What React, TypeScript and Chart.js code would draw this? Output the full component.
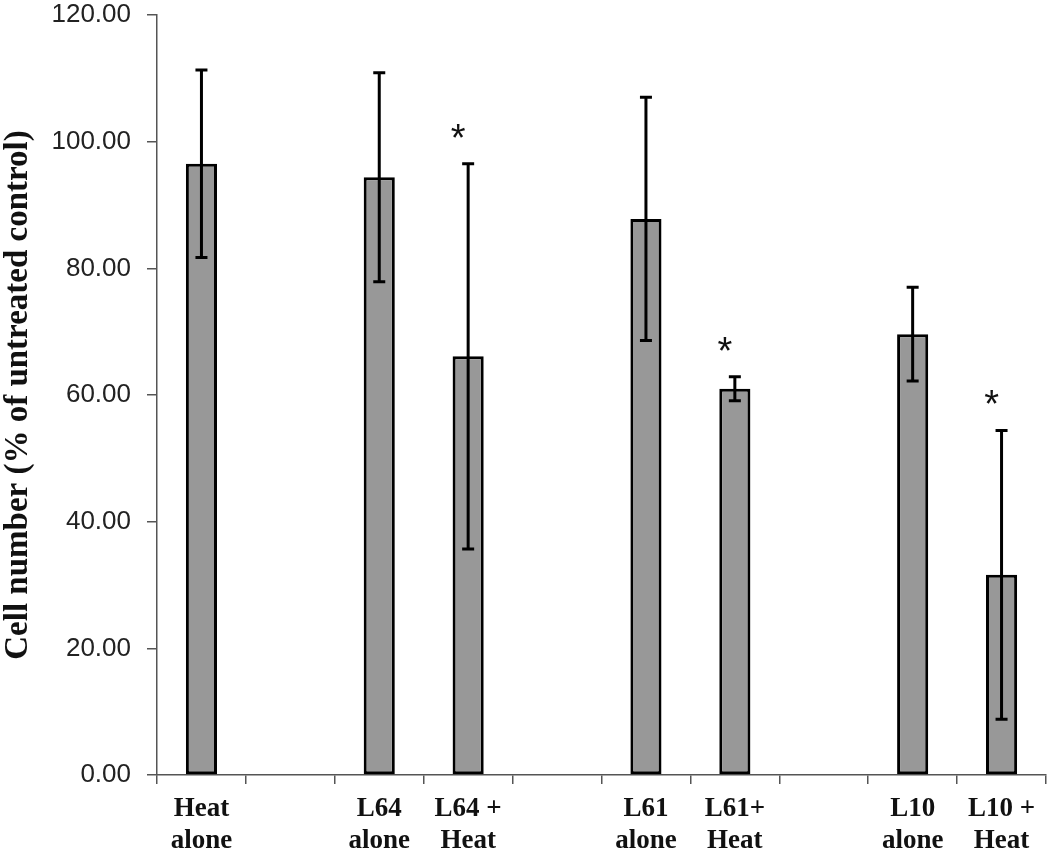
import React, { useEffect, useRef } from "react";
import { Chart, registerables } from "chart.js";

Chart.register(...registerables);

const categories: (string | string[])[] = [
  ["Heat", "alone"],
  "",
  ["L64", "alone"],
  ["L64 +", "Heat"],
  "",
  ["L61", "alone"],
  ["L61+", "Heat"],
  "",
  ["L10", "alone"],
  ["L10 +", "Heat"],
];
const meanValues: (number | null)[] = [96.5, null, 94.4, 66.1, null, 87.8, 61.0, null, 69.6, 31.6];
const errorValues: (number | null)[] = [14.8, null, 16.5, 30.4, null, 19.2, 1.9, null, 7.4, 22.8];
const significant: boolean[] = [false, false, false, true, false, false, true, false, false, true];
const yTickValues: number[] = [0, 20, 40, 60, 80, 100, 120];
const yTitle = "Cell number (% of untreated control)";

const SERIF = "'Liberation Serif', 'Times New Roman', serif";
const SANS = "'Liberation Sans', Arial, sans-serif";

const errorBarPlugin = {
  id: "errorBars",
  afterDatasetsDraw(chart: any) {
    const ctx = chart.ctx;
    const meta = chart.getDatasetMeta(0);
    const yScale = chart.scales.y;
    ctx.save();
    ctx.strokeStyle = "#000";
    ctx.lineWidth = 3;
    ctx.lineCap = "butt";
    meta.data.forEach((bar: any, i: number) => {
      const v = meanValues[i];
      const e = errorValues[i];
      if (v == null || e == null) return;
      const x = bar.x;
      const yTop = yScale.getPixelForValue(v + e);
      const yBot = yScale.getPixelForValue(v - e);
      ctx.beginPath();
      ctx.moveTo(x, yTop);
      ctx.lineTo(x, yBot);
      ctx.moveTo(x - 6, yTop);
      ctx.lineTo(x + 6, yTop);
      ctx.moveTo(x - 6, yBot);
      ctx.lineTo(x + 6, yBot);
      ctx.stroke();
      if (significant[i]) {
        ctx.fillStyle = "#111";
        ctx.font = `38px ${SANS}`;
        ctx.textAlign = "center";
        ctx.textBaseline = "alphabetic";
        ctx.fillText("*", x - 10, yTop - 34 + 21);
      }
    });
    ctx.restore();
  },
};

export default function App() {
  const canvasRef = useRef<HTMLCanvasElement | null>(null);

  useEffect(() => {
    document.body.style.margin = "0";
    const canvas = canvasRef.current;
    if (!canvas) return;
    const chart = new Chart(canvas, {
      type: "bar",
      data: {
        labels: categories,
        datasets: [
          {
            data: meanValues,
            backgroundColor: "#989898",
            borderColor: "#000",
            borderWidth: 3,
            borderSkipped: false,
            barPercentage: 0.35,
            categoryPercentage: 1,
          },
        ],
      },
      options: {
        responsive: false,
        animation: false,
        layout: { padding: { top: 15, right: 4, left: 0, bottom: 0 } },
        plugins: {
          legend: { display: false },
          tooltip: { enabled: false },
        },
        scales: {
          x: {
            offset: true,
            grid: {
              display: true,
              offset: true,
              drawOnChartArea: false,
              drawTicks: true,
              tickLength: 9,
              color: "#555",
              lineWidth: 1.5,
            },
            border: { display: true, color: "#555", width: 1.5 },
            ticks: {
              color: "#111",
              autoSkip: false,
              maxRotation: 0,
              padding: 10,
              font: { family: SERIF, weight: "bold", size: 27, lineHeight: 1.15 },
            },
            afterFit: (s: any) => {
              s.height = 76;
              s.paddingLeft = 0;
              s.paddingRight = 0;
            },
          },
          y: {
            min: 0,
            max: 120,
            afterBuildTicks: (s: any) => {
              s.ticks = yTickValues.map((v) => ({ value: v }));
            },
            ticks: {
              color: "#222",
              padding: 16,
              font: { family: SANS, size: 26, lineHeight: 1.15 },
              callback: (v: any) => Number(v).toFixed(2),
            },
            grid: {
              drawOnChartArea: false,
              drawTicks: true,
              tickLength: 10,
              color: "#555",
              lineWidth: 1.5,
            },
            border: { display: true, color: "#555", width: 1.5 },
            title: {
              display: true,
              text: yTitle,
              color: "#111",
              font: { family: SERIF, weight: "bold", size: 33, lineHeight: 1.1 },
              padding: { top: 0, bottom: 0 },
            },
            afterFit: (s: any) => {
              s.width = 157;
              s.paddingTop = 0;
              s.paddingBottom = 0;
            },
          },
        },
      } as any,
      plugins: [errorBarPlugin],
    });
    return () => chart.destroy();
  }, []);

  return (
    <div style={{ width: 1050, height: 851, background: "#fff" }}>
      <canvas ref={canvasRef} width={1050} height={851} />
    </div>
  );
}
